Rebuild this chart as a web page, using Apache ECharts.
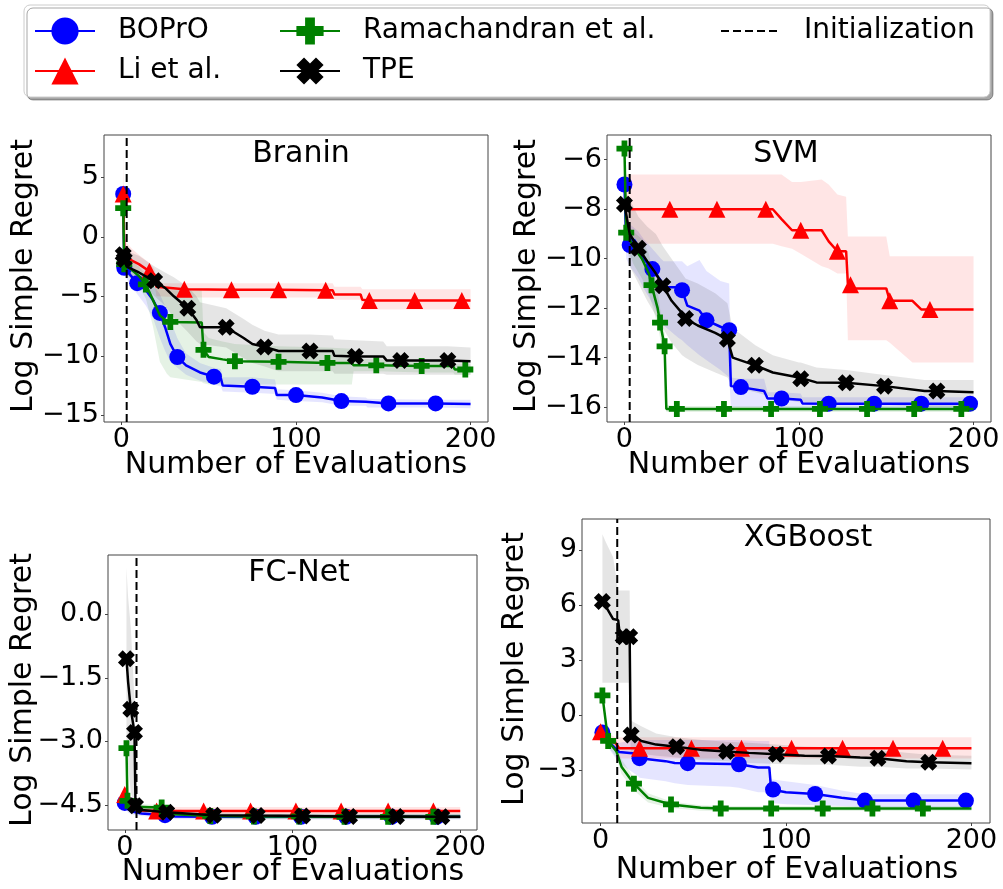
<!DOCTYPE html>
<html><head><meta charset="utf-8">
<script src="https://cdn.jsdelivr.net/npm/echarts@6/dist/echarts.min.js"></script>
<style>html,body{margin:0;padding:0;background:#fff}#c{width:1003px;height:889px}</style>
</head><body><div id="c"></div>
<script>
// ---------- axes / ticks ----------
const X_RANGE = [-10, 210];
const X_TICKS = [0, 100, 200];
const Y_RANGE_BRANIN = [-15.56, 8.55];
const Y_TICKS_BRANIN = [-15, -10, -5, 0, 5];
const Y_RANGE_SVM = [-16.6, -5.0];
const Y_TICKS_SVM = [-16, -14, -12, -10, -8, -6];
const Y_RANGE_FC = [-5.09, 1.40];
const Y_TICKS_FC = [-4.5, -3.0, -1.5, 0.0];
const Y_RANGE_XGB = [-5.87, 10.69];
const Y_TICKS_XGB = [-3, 0, 3, 6, 9];
const TITLES = ['Branin', 'SVM', 'FC-Net', 'XGBoost'];
const INIT_X = [3, 3, 7, 9];
const METHODS = ['BOPrO', 'Li et al.', 'Ramachandran et al.', 'TPE'];

// ---------- Branin ----------
const BR_BOPRO_X = [1, 1.6, 5, 9, 14, 18, 22, 25, 28, 32, 37, 45, 53, 57, 58, 75, 88, 89, 100, 115, 126, 140, 141, 153, 180, 200];
const BR_BOPRO_Y = [3.6, -2.6, -3.2, -3.9, -4.5, -5.3, -6.4, -7.6, -9.0, -10.1, -10.8, -11.4, -11.75, -11.9, -12.5, -12.6, -12.7, -13.3, -13.3, -13.5, -13.8, -13.85, -14.0, -14.0, -14.0, -14.05];
const BR_BOPRO_LO = [3.3, -3.2, -4.0, -4.8, -5.8, -6.8, -8.5, -9.6, -10.5, -11.0, -11.6, -12.1, -12.4, -12.6, -13.0, -13.1, -13.2, -13.7, -13.8, -13.9, -14.2, -14.2, -14.35, -14.35, -14.35, -14.4];
const BR_BOPRO_HI = [3.9, -2.0, -2.5, -3.0, -3.3, -4.0, -4.8, -5.8, -7.0, -8.5, -9.8, -10.6, -11.0, -11.1, -11.8, -11.8, -12.0, -12.8, -12.9, -13.1, -13.4, -13.5, -13.6, -13.65, -13.7, -13.7];
const BR_BOPRO_MARK = [1, 1.6, 9, 22, 32, 53, 75, 100, 126, 153, 180];

const BR_LI_X = [1, 1.6, 3, 6, 10, 16, 19, 20, 36, 63, 90, 117, 121, 122, 137, 138, 142, 168, 195, 200];
const BR_LI_Y = [3.6, -1.0, -1.7, -2.0, -2.3, -2.9, -3.2, -4.2, -4.4, -4.45, -4.45, -4.5, -4.5, -4.85, -4.85, -5.3, -5.35, -5.35, -5.35, -5.35];
const BR_LI_LO = [0.5, -2.5, -2.6, -2.8, -3.0, -3.6, -4.0, -5.0, -5.1, -5.1, -5.1, -5.1, -5.1, -5.3, -5.3, -6.1, -6.1, -6.1, -6.1, -6.1];
const BR_LI_HI = [7.5, 0.5, -0.5, -1.0, -1.5, -2.2, -2.7, -3.9, -3.9, -3.9, -3.9, -3.9, -3.9, -4.2, -4.2, -4.4, -4.4, -4.4, -4.4, -4.4];
const BR_LI_MARK = [1, 16, 36, 63, 90, 117, 142, 168, 195];

const BR_RAMA_X = [1, 1.6, 6, 10, 14, 18, 22, 26, 28, 46, 47, 50, 58, 65, 90, 118, 132, 133, 146, 172, 190, 191, 197, 200];
const BR_RAMA_Y = [2.4, -2.3, -2.8, -3.3, -4.0, -5.3, -6.6, -7.1, -7.15, -7.2, -9.5, -10.1, -10.3, -10.45, -10.5, -10.6, -10.6, -10.8, -10.8, -10.85, -10.85, -11.15, -11.15, -11.2];
const BR_RAMA_LO = [1.5, -3.0, -3.6, -4.2, -5.2, -7.5, -10.5, -11.5, -11.8, -12.2, -12.3, -12.4, -12.4, -12.4, -12.4, -12.4, -12.4, -11.3, -11.3, -11.4, -11.4, -11.6, -11.6, -11.6];
const BR_RAMA_HI = [3.3, -1.6, -2.1, -2.5, -3.2, -4.0, -4.4, -4.5, -4.5, -4.5, -8.0, -8.5, -8.8, -9.0, -9.2, -9.3, -9.4, -10.2, -10.3, -10.4, -10.4, -10.7, -10.7, -10.7];
const BR_RAMA_MARK = [1, 1.6, 14, 28, 47, 65, 90, 118, 146, 172, 197];

const BR_TPE_X = [1, 1.6, 3, 10, 16, 19, 25, 30, 38, 43, 45, 60, 70, 75, 82, 90, 108, 121, 122, 134, 150, 152, 160, 187, 200];
const BR_TPE_Y = [-1.5, -1.9, -2.5, -3.0, -3.5, -3.7, -4.3, -5.0, -6.0, -7.0, -7.6, -7.6, -8.5, -9.0, -9.25, -9.6, -9.6, -9.6, -10.0, -10.05, -10.05, -10.4, -10.4, -10.4, -10.45];
const BR_TPE_LO = [-2.3, -2.6, -3.2, -4.0, -4.6, -5.0, -5.8, -6.8, -8.0, -8.8, -9.0, -9.3, -10.2, -10.6, -10.9, -11.3, -11.3, -11.3, -11.5, -11.5, -11.5, -11.6, -11.6, -11.6, -11.6];
const BR_TPE_HI = [-0.8, -1.0, -1.2, -1.6, -2.2, -2.5, -3.0, -3.4, -4.2, -5.0, -5.5, -6.0, -6.9, -7.4, -7.9, -8.2, -8.2, -8.3, -8.6, -8.7, -8.8, -9.2, -9.2, -9.2, -9.3];
const BR_TPE_MARK = [1, 1.6, 19, 38, 60, 82, 108, 134, 160, 187];

// ---------- SVM ----------
const SVM_BOPRO_X = [0, 1, 3, 8, 11, 16, 21, 22.5, 31, 33, 36, 43, 47, 55, 60, 61, 66.7, 80, 82, 90, 101, 102, 117, 143, 170, 198, 200];
const SVM_BOPRO_Y = [-7.0, -9.3, -9.45, -9.75, -10.0, -10.42, -10.9, -11.15, -11.15, -11.27, -11.9, -12.1, -12.49, -12.75, -12.89, -15.15, -15.19, -15.35, -15.65, -15.65, -15.7, -15.85, -15.86, -15.86, -15.86, -15.86, -15.86];
const SVM_BOPRO_LO = [-7.5, -10.0, -10.3, -10.8, -11.2, -11.8, -12.5, -12.7, -13.2, -13.3, -13.5, -13.9, -14.1, -14.5, -14.8, -16.0, -16.0, -16.0, -16.05, -16.05, -16.1, -16.1, -16.1, -16.1, -16.1, -16.1, -16.1];
const SVM_BOPRO_HI = [-6.5, -8.5, -8.6, -8.9, -9.2, -9.6, -10.0, -10.1, -10.1, -10.1, -10.3, -10.05, -10.5, -10.9, -11.0, -14.8, -14.85, -14.85, -15.4, -15.4, -15.45, -15.6, -15.6, -15.6, -15.6, -15.6, -15.6];
const SVM_BOPRO_MARK = [0, 3, 16, 33, 47, 60, 66.7, 90, 117, 143, 170, 198];

const SVM_LI_X = [0, 26, 53, 81, 85, 90, 96, 101, 113, 117, 122, 127, 128, 129.5, 130, 150, 152, 165, 170, 175, 200];
const SVM_LI_Y = [-8.0, -8.0, -8.0, -8.0, -8.0, -8.4, -8.85, -8.85, -8.85, -9.3, -9.7, -9.7, -11.0, -11.05, -11.2, -11.2, -11.7, -11.7, -12.05, -12.05, -12.05];
const SVM_LI_LO = [-9.4, -9.4, -9.4, -9.4, -9.4, -9.5, -9.6, -9.8, -10.3, -10.4, -10.6, -10.6, -13.3, -13.3, -13.3, -13.3, -13.4, -14.2, -14.2, -14.2, -14.2];
const SVM_LI_HI = [-6.6, -6.6, -6.6, -6.6, -6.6, -6.6, -6.9, -6.9, -6.8, -7.0, -7.4, -7.5, -9.1, -9.1, -9.1, -9.1, -9.9, -9.9, -9.9, -9.9, -9.9];
const SVM_LI_MARK = [26, 53, 81, 101, 122, 129.5, 152, 175];

const SVM_RAMA_X = [0, 1, 5, 10, 14, 15.5, 19, 20.4, 23, 24, 30, 57, 84, 112, 139, 166, 193, 200];
const SVM_RAMA_Y = [-5.55, -8.95, -9.5, -10.0, -10.6, -11.07, -12.0, -12.58, -13.54, -16.07, -16.07, -16.07, -16.07, -16.07, -16.07, -16.07, -16.07, -16.07];
const SVM_RAMA_LO = [-6.0, -9.4, -10.2, -10.8, -11.4, -11.8, -12.7, -13.2, -14.0, -16.2, -16.2, -16.2, -16.2, -16.2, -16.2, -16.2, -16.2, -16.2];
const SVM_RAMA_HI = [-5.2, -8.5, -8.9, -9.2, -9.8, -10.3, -11.3, -12.0, -13.0, -15.9, -15.95, -15.95, -15.95, -15.95, -15.95, -15.95, -15.95, -15.95];
const SVM_RAMA_MARK = [0, 1, 15.5, 20.4, 23, 30, 57, 84, 112, 139, 166, 193];

const SVM_TPE_X = [0, 3, 8, 13, 18, 22, 27, 33, 35, 42, 52, 59, 62, 75, 85, 100, 101, 110, 127, 149, 172, 179, 200];
const SVM_TPE_Y = [-7.8, -9.0, -9.58, -10.1, -10.6, -11.09, -11.7, -12.2, -12.42, -12.7, -13.0, -13.26, -14.0, -14.31, -14.6, -14.8, -14.85, -15.0, -15.01, -15.15, -15.35, -15.35, -15.4];
const SVM_TPE_LO = [-8.4, -10.3, -11.0, -11.7, -12.3, -12.8, -13.4, -13.9, -14.0, -14.3, -14.6, -14.8, -15.2, -15.4, -15.6, -15.8, -15.8, -15.9, -15.9, -15.9, -16.0, -16.0, -16.0];
const SVM_TPE_HI = [-7.2, -7.6, -8.3, -8.7, -9.0, -9.5, -10.0, -10.6, -10.8, -11.0, -11.4, -11.8, -12.8, -13.5, -13.9, -14.2, -14.2, -14.4, -14.5, -14.7, -14.9, -14.9, -14.9];
const SVM_TPE_MARK = [0, 8, 22, 35, 59, 75, 101, 127, 149, 179];

// ---------- FC-Net ----------
const FC_BOPRO_X = [0, 2, 5, 10, 24, 30, 52, 78, 105, 132, 159, 186, 200];
const FC_BOPRO_Y = [-4.45, -4.6, -4.66, -4.7, -4.74, -4.77, -4.78, -4.78, -4.78, -4.78, -4.78, -4.78, -4.78];
const FC_BOPRO_LO = [-4.55, -4.68, -4.73, -4.76, -4.8, -4.83, -4.84, -4.84, -4.84, -4.84, -4.84, -4.84, -4.84];
const FC_BOPRO_HI = [-4.35, -4.52, -4.59, -4.64, -4.68, -4.71, -4.72, -4.72, -4.72, -4.72, -4.72, -4.72, -4.72];
const FC_BOPRO_MARK = [0, 24, 52, 78, 105, 132, 159, 186];

const FC_LI_X = [0, 1.5, 5, 10, 19, 47, 75, 102, 129, 157, 184, 200];
const FC_LI_Y = [-4.25, -4.5, -4.58, -4.63, -4.64, -4.64, -4.64, -4.64, -4.64, -4.64, -4.64, -4.64];
const FC_LI_LO = [-4.4, -4.6, -4.66, -4.72, -4.72, -4.72, -4.72, -4.72, -4.72, -4.72, -4.72, -4.72];
const FC_LI_HI = [-4.1, -4.4, -4.5, -4.55, -4.55, -4.55, -4.55, -4.55, -4.55, -4.55, -4.55, -4.55];
const FC_LI_MARK = [0, 19, 47, 75, 102, 129, 157, 184];

const FC_RAMA_X = [1, 1.6, 10, 22, 30, 51, 77, 104, 131, 157, 184, 200];
const FC_RAMA_Y = [-3.16, -4.4, -4.55, -4.56, -4.72, -4.76, -4.77, -4.77, -4.78, -4.78, -4.78, -4.78];
const FC_RAMA_LO = [-3.4, -4.5, -4.62, -4.63, -4.78, -4.82, -4.83, -4.83, -4.83, -4.83, -4.83, -4.83];
const FC_RAMA_HI = [-2.9, -4.3, -4.48, -4.5, -4.66, -4.7, -4.71, -4.71, -4.71, -4.71, -4.71, -4.71];
const FC_RAMA_MARK = [1, 1.6, 22, 51, 77, 104, 131, 157, 184];

const FC_TPE_X = [1, 2, 3.6, 5.8, 6.4, 10, 25, 53, 79, 106, 134, 162, 189, 200];
const FC_TPE_Y = [-1.05, -1.6, -2.24, -2.79, -4.52, -4.62, -4.67, -4.74, -4.75, -4.76, -4.77, -4.77, -4.78, -4.78];
const FC_TPE_LO = [-3.2, -3.6, -4.2, -4.5, -4.6, -4.7, -4.75, -4.82, -4.83, -4.83, -4.83, -4.83, -4.83, -4.83];
const FC_TPE_HI = [1.1, 0.4, -0.3, -2.0, -4.3, -4.5, -4.58, -4.68, -4.7, -4.7, -4.7, -4.7, -4.7, -4.7];
const FC_TPE_MARK = [1, 3.6, 5.8, 6.4, 25, 53, 79, 106, 134, 162, 189];

// ---------- XGBoost ----------
const XGB_BOPRO_X = [1, 5, 10, 20, 21, 35, 40, 47, 70, 74.6, 85, 91, 92, 93, 100, 115.7, 130, 142.5, 168.8, 197, 200];
const XGB_BOPRO_Y = [-0.94, -1.5, -2.0, -2.1, -2.34, -2.5, -2.6, -2.61, -2.65, -2.67, -2.85, -2.85, -4.05, -4.05, -4.2, -4.29, -4.5, -4.65, -4.65, -4.65, -4.65];
const XGB_BOPRO_LO = [-1.2, -1.9, -2.6, -3.3, -3.4, -3.6, -3.7, -3.8, -3.9, -3.95, -4.2, -4.2, -4.8, -4.8, -4.85, -4.9, -4.95, -5.0, -5.0, -5.0, -5.0];
const XGB_BOPRO_HI = [-0.7, -1.2, -1.5, -1.35, -1.35, -1.35, -1.35, -1.35, -1.35, -1.35, -1.4, -1.4, -3.5, -3.5, -3.6, -3.8, -4.1, -4.3, -4.3, -4.3, -4.3];
const XGB_BOPRO_MARK = [1, 21, 47, 74.6, 93, 115.7, 142.5, 168.8, 197];

const XGB_LI_X = [0, 4, 8, 10, 21, 49, 76, 103, 130.5, 157.7, 184.5, 200];
const XGB_LI_Y = [-0.9, -1.4, -1.5, -1.8, -1.8, -1.8, -1.8, -1.8, -1.8, -1.8, -1.8, -1.8];
const XGB_LI_LO = [-1.3, -1.7, -1.9, -2.35, -2.35, -2.35, -2.35, -2.35, -2.35, -2.35, -2.35, -2.35];
const XGB_LI_HI = [-0.5, -1.0, -1.2, -1.2, -1.2, -1.2, -1.2, -1.2, -1.2, -1.2, -1.2, -1.2];
const XGB_LI_MARK = [0, 21, 49, 76, 103, 130.5, 157.7, 184.5];

const XGB_RAMA_X = [1, 4.1, 8.6, 11.3, 18, 25.6, 38, 54, 64.8, 92, 119.8, 146.6, 173.8, 200];
const XGB_RAMA_Y = [1.08, -1.4, -1.98, -2.8, -3.73, -4.5, -4.86, -5.04, -5.08, -5.08, -5.08, -5.08, -5.08, -5.08];
const XGB_RAMA_LO = [0.8, -1.7, -2.3, -3.2, -4.1, -4.75, -5.05, -5.2, -5.22, -5.22, -5.22, -5.22, -5.22, -5.22];
const XGB_RAMA_HI = [1.4, -1.1, -1.7, -2.4, -3.4, -4.25, -4.7, -4.9, -4.95, -4.95, -4.95, -4.95, -4.95, -4.95];
const XGB_RAMA_MARK = [1, 4.1, 18, 38, 64.8, 92, 119.8, 146.6, 173.8];

const XGB_TPE_X = [1, 3, 6.8, 9.5, 10.4, 12.2, 15.7, 16.2, 16.5, 22, 30, 41, 55, 68, 80, 94.8, 110, 122.9, 140, 149.6, 165, 177, 200];
const XGB_TPE_Y = [6.2, 5.9, 5.24, 5.18, 4.36, 4.27, 4.27, -0.99, -1.08, -1.4, -1.6, -1.71, -1.9, -1.98, -2.05, -2.13, -2.2, -2.22, -2.3, -2.34, -2.5, -2.56, -2.61];
const XGB_TPE_LO = [1.77, 1.77, 1.77, 1.77, 1.77, 1.77, 1.77, -2.0, -2.0, -2.1, -2.2, -2.3, -2.45, -2.5, -2.6, -2.65, -2.7, -2.7, -2.8, -2.8, -2.9, -2.9, -2.95];
const XGB_TPE_HI = [9.86, 9.4, 8.6, 6.8, 6.8, 6.8, 6.8, -0.2, -0.3, -0.6, -1.0, -1.2, -1.35, -1.45, -1.5, -1.6, -1.7, -1.75, -1.85, -1.9, -2.05, -2.15, -2.2];
const XGB_TPE_MARK = [1, 12.2, 15.7, 16.5, 41, 68, 94.8, 122.9, 149.6, 177];

// ---------- build ----------
const FONT = 'DejaVu Sans';
const COLORS = ['#0000ff', '#ff0000', '#008000', '#000000'];
const BANDS = ['rgba(0,0,255,0.1)', 'rgba(255,0,0,0.1)', 'rgba(0,128,0,0.1)', 'rgba(0,0,0,0.1)'];
const PLUS = 'path://M32,0H68V32H100V68H68V100H32V68H0V32H32Z';
const XMARK = 'path://M0,28L28,0L50,22L72,0L100,28L78,50L100,72L72,100L50,78L28,100L0,72L22,50Z';
const SYMBOLS = ['circle', 'triangle', PLUS, XMARK];
const SIZES = [16, 17, 16, 17];

const GRIDS = [
  {left: 104, top: 135, width: 384, height: 287},
  {left: 607, top: 135, width: 384, height: 287},
  {left: 108, top: 555, width: 369, height: 275},
  {left: 582, top: 519, width: 408, height: 304}
];
const YR = [Y_RANGE_BRANIN, Y_RANGE_SVM, Y_RANGE_FC, Y_RANGE_XGB];
const YT = [Y_TICKS_BRANIN, Y_TICKS_SVM, Y_TICKS_FC, Y_TICKS_XGB];
const DATA = [
  [[BR_BOPRO_X, BR_BOPRO_Y, BR_BOPRO_LO, BR_BOPRO_HI, BR_BOPRO_MARK], [BR_LI_X, BR_LI_Y, BR_LI_LO, BR_LI_HI, BR_LI_MARK], [BR_RAMA_X, BR_RAMA_Y, BR_RAMA_LO, BR_RAMA_HI, BR_RAMA_MARK], [BR_TPE_X, BR_TPE_Y, BR_TPE_LO, BR_TPE_HI, BR_TPE_MARK]],
  [[SVM_BOPRO_X, SVM_BOPRO_Y, SVM_BOPRO_LO, SVM_BOPRO_HI, SVM_BOPRO_MARK], [SVM_LI_X, SVM_LI_Y, SVM_LI_LO, SVM_LI_HI, SVM_LI_MARK], [SVM_RAMA_X, SVM_RAMA_Y, SVM_RAMA_LO, SVM_RAMA_HI, SVM_RAMA_MARK], [SVM_TPE_X, SVM_TPE_Y, SVM_TPE_LO, SVM_TPE_HI, SVM_TPE_MARK]],
  [[FC_BOPRO_X, FC_BOPRO_Y, FC_BOPRO_LO, FC_BOPRO_HI, FC_BOPRO_MARK], [FC_LI_X, FC_LI_Y, FC_LI_LO, FC_LI_HI, FC_LI_MARK], [FC_RAMA_X, FC_RAMA_Y, FC_RAMA_LO, FC_RAMA_HI, FC_RAMA_MARK], [FC_TPE_X, FC_TPE_Y, FC_TPE_LO, FC_TPE_HI, FC_TPE_MARK]],
  [[XGB_BOPRO_X, XGB_BOPRO_Y, XGB_BOPRO_LO, XGB_BOPRO_HI, XGB_BOPRO_MARK], [XGB_LI_X, XGB_LI_Y, XGB_LI_LO, XGB_LI_HI, XGB_LI_MARK], [XGB_RAMA_X, XGB_RAMA_Y, XGB_RAMA_LO, XGB_RAMA_HI, XGB_RAMA_MARK], [XGB_TPE_X, XGB_TPE_Y, XGB_TPE_LO, XGB_TPE_HI, XGB_TPE_MARK]]
];
const TITLE_POS = [[301, 154], [786, 154], [299, 573], [808, 538]];
const YLABEL_POS = [[24, 276], [527, 276], [23, 690], [515, 669]];
const XLABEL_POS = [[296, 465], [799, 465], [293, 872], [787, 870]];

const fmtMinus = v => String(v).replace('-', '\u2212');
const xAxis = [], yAxis = [], series = [], graphic = [];

graphic.push({type: 'rect', z: 0, shape: {x: 24, y: 5, width: 966, height: 92, r: 6},
  style: {fill: '#fff', stroke: '#cccccc', lineWidth: 1, shadowColor: 'rgba(0,0,0,0.35)', shadowOffsetX: 3, shadowOffsetY: 3, shadowBlur: 0}});

function bandSeries(g, m, xs, lo, hi) {
  return {type: 'custom', xAxisIndex: g, yAxisIndex: g, silent: true, z: 1, clip: true,
    encode: {x: 0, y: [1, 2]},
    data: xs.map((x, i) => [x, lo[i], hi[i]]),
    renderItem: function (params, api) {
      if (params.dataIndex !== 0) return;
      const pts = [];
      for (let i = 0; i < xs.length; i++) pts.push(api.coord([xs[i], hi[i]]));
      for (let i = xs.length - 1; i >= 0; i--) pts.push(api.coord([xs[i], lo[i]]));
      return {type: 'polygon', shape: {points: pts}, style: {fill: BANDS[m], stroke: null}};
    }};
}

for (let g = 0; g < 4; g++) {
  xAxis.push({type: 'value', gridIndex: g, min: X_RANGE[0], max: X_RANGE[1],
    splitLine: {show: false}, axisLine: {show: false, onZero: false},
    axisTick: {show: true, length: 3, lineStyle: {color: '#444'}, customValues: X_TICKS},
    axisLabel: {customValues: X_TICKS, fontSize: 27, fontFamily: FONT, color: '#000', margin: 4, formatter: fmtMinus}});
  yAxis.push({type: 'value', gridIndex: g, min: YR[g][0], max: YR[g][1],
    splitLine: {show: false}, axisLine: {show: false, onZero: false},
    axisTick: {show: true, length: 3, lineStyle: {color: '#444'}, customValues: YT[g]},
    axisLabel: {customValues: YT[g], fontSize: 27, fontFamily: FONT, color: '#000', margin: 5,
      formatter: g === 2 ? (v => fmtMinus(v.toFixed(1))) : fmtMinus}});
  for (let m = 0; m < 4; m++) {
    const [xs, ys, lo, hi, mk] = DATA[g][m];
    series.push(bandSeries(g, m, xs, lo, hi));
  }
  for (let m = 0; m < 4; m++) {
    const [xs, ys, lo, hi, mk] = DATA[g][m];
    series.push({type: 'line', name: METHODS[m], xAxisIndex: g, yAxisIndex: g,
      data: xs.map((x, i) => mk.includes(x) ? {value: [x, ys[i]]} : {value: [x, ys[i]], symbol: 'none'}),
      symbol: SYMBOLS[m], symbolSize: SIZES[m], showSymbol: true,
      lineStyle: {color: COLORS[m], width: 2.5}, itemStyle: {color: COLORS[m]}, z: 3 + m * 0.01,
      emphasis: {disabled: true}});
  }
  series.push({type: 'line', name: 'Initialization', xAxisIndex: g, yAxisIndex: g,
    data: [[INIT_X[g], YR[g][0]], [INIT_X[g], YR[g][1]]], symbol: 'none',
    lineStyle: {color: '#000', width: 2, type: [8, 4]}, itemStyle: {color: 'rgba(0,0,0,0)', borderWidth: 0}, z: 4,
    emphasis: {disabled: true}});

  graphic.push({type: 'text', x: TITLE_POS[g][0], y: TITLE_POS[g][1], z: 10,
    style: {text: TITLES[g], font: '30px "DejaVu Sans"', fill: '#000', align: 'center', verticalAlign: 'middle', textAlign: 'center', textVerticalAlign: 'middle'}});
  graphic.push({type: 'text', x: XLABEL_POS[g][0], y: XLABEL_POS[g][1], z: 10,
    style: {text: 'Number of Evaluations', font: '30px "DejaVu Sans"', fill: '#000', align: 'center', verticalAlign: 'middle', textAlign: 'center', textVerticalAlign: 'middle'}});
  graphic.push({type: 'text', x: YLABEL_POS[g][0], y: YLABEL_POS[g][1], rotation: Math.PI / 2, z: 10,
    style: {text: 'Log Simple Regret', font: '30px "DejaVu Sans"', fill: '#000', align: 'center', verticalAlign: 'middle', textAlign: 'center', textVerticalAlign: 'middle'}});
}

const legendBase = {orient: 'vertical', top: 17, padding: 0, itemWidth: 60, itemHeight: 34, itemGap: 12, z: 5,
  selectedMode: false, textStyle: {fontSize: 28, fontFamily: FONT, color: '#000', padding: [0, 0, 0, 18]}};
const legend = [
  Object.assign({}, legendBase, {left: 34, data: ['BOPrO', 'Li et al.']}),
  Object.assign({}, legendBase, {left: 279, data: ['Ramachandran et al.', 'TPE']}),
  Object.assign({}, legendBase, {left: 720, data: [{name: 'Initialization', itemStyle: {color: 'rgba(0,0,0,0)', borderColor: 'rgba(0,0,0,0)', borderWidth: 0}}]})
];

const chart = echarts.init(document.getElementById('c'), null, {renderer: 'canvas'});
chart.setOption({
  animation: false,
  textStyle: {fontFamily: FONT},
  grid: GRIDS.map(r => Object.assign({show: true, borderColor: '#444', borderWidth: 1, backgroundColor: 'transparent'}, r)),
  xAxis, yAxis, series, legend, graphic
});
</script></body></html>
